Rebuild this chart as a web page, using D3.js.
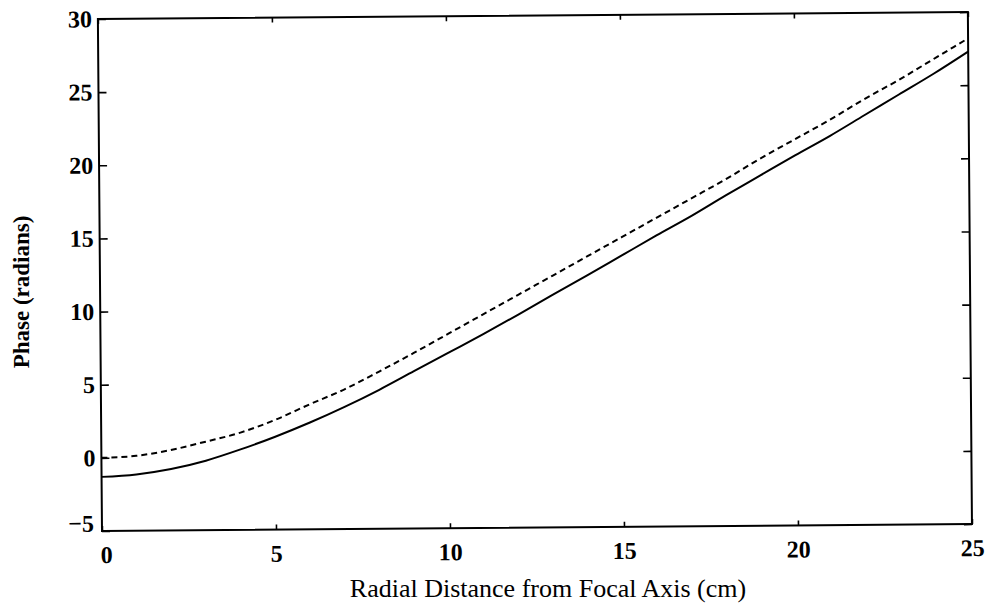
<!DOCTYPE html>
<html>
<head>
<meta charset="utf-8">
<script src="https://cdn.jsdelivr.net/npm/d3@7"></script>
<style>
  body { margin: 0; background: #fff; }
  .tick text { font-family: "Liberation Serif", "Times New Roman", serif; font-weight: bold; font-size: 24px; fill: #000; }
  .tick line { stroke: #000; stroke-width: 1.6; }
</style>
</head>
<body>
<div id="container"></div>
<script>
/* DATA */
const radius = [0, 1, 2, 3, 4, 5, 6, 7, 8, 9, 10, 11, 12, 13, 14, 15, 16, 17, 18, 19, 20, 21, 22, 23, 24, 25];
const phaseSolid = [-1.3, -1.15, -0.8, -0.25, 0.5, 1.35, 2.3, 3.35, 4.5, 5.75, 7.0, 8.25, 9.55, 10.9, 12.2, 13.55, 14.9, 16.2, 17.6, 18.95, 20.3, 21.6, 23.0, 24.4, 25.8, 27.3];
const phaseDashed = [0, 0.12, 0.5, 1.05, 1.65, 2.5, 3.55, 4.55, 5.75, 7.0, 8.3, 9.6, 10.9, 12.2, 13.5, 14.8, 16.1, 17.4, 18.7, 20.1, 21.4, 22.7, 24.1, 25.4, 26.8, 28.2];
const xTicks = [0, 5, 10, 15, 20, 25];
const yTicks = [-5, 0, 5, 10, 15, 20, 25, 30];

/* CONSTANTS */
const width = 986, height = 606;
const margin = { top: 19, right: 14, bottom: 75, left: 102 };

const svg = d3.select("#container")
  .append("svg")
  .attr("width", width)
  .attr("height", height)
  .style("background-color", "#ffffff");

// the scan is slightly tilted
const g = svg.append("g")
  .attr("transform", `rotate(-0.46, ${margin.left}, ${height - margin.bottom})`);

/* SCALES */
const xScale = d3.scaleLinear()
  .domain([0, 25])
  .range([margin.left, width - margin.right]);

const yScale = d3.scaleLinear()
  .domain([-5, 30])
  .range([height - margin.bottom, margin.top]);

/* AXES */
g.append("g")
  .attr("class", "x-axis")
  .attr("transform", `translate(0,${height - margin.bottom})`)
  .call(d3.axisBottom(xScale).tickValues(xTicks).tickSize(-5).tickPadding(15))
  .call(a => a.select(".domain").remove())
  .call(a => a.selectAll(".tick text").filter(d => d === 0).attr("dx", 4));

g.append("g")
  .attr("class", "y-axis")
  .attr("transform", `translate(${margin.left},0)`)
  .call(d3.axisLeft(yScale).tickValues(yTicks).tickSize(-8).tickPadding(6))
  .call(a => a.select(".domain").remove())
  .call(a => a.selectAll(".tick text").filter(d => d === -5).attr("dy", "0").attr("dx", -2));

// top and right ticks, no labels
g.append("g")
  .attr("transform", `translate(0,${margin.top})`)
  .call(d3.axisTop(xScale).tickValues(xTicks).tickSize(-5).tickFormat(""))
  .call(a => a.select(".domain").remove());

g.append("g")
  .attr("transform", `translate(${width - margin.right},0)`)
  .call(d3.axisRight(yScale).tickValues(yTicks).tickSize(-8).tickFormat(""))
  .call(a => a.select(".domain").remove());

// frame
g.append("rect")
  .attr("x", xScale(0))
  .attr("y", yScale(30))
  .attr("width", xScale(25) - xScale(0))
  .attr("height", yScale(-5) - yScale(30))
  .attr("fill", "none")
  .attr("stroke", "#000")
  .attr("stroke-width", 2);

/* LINES */
const solidData = radius.map((r, i) => [r, phaseSolid[i]]);
const dashedData = radius.map((r, i) => [r, phaseDashed[i]]);

const line = d3.line()
  .x(d => xScale(d[0]))
  .y(d => yScale(d[1]))
  .curve(d3.curveMonotoneX);

g.append("path")
  .datum(solidData)
  .attr("d", line)
  .attr("fill", "none")
  .attr("stroke", "#000")
  .attr("stroke-width", 2);

g.append("path")
  .datum(dashedData)
  .attr("d", line)
  .attr("fill", "none")
  .attr("stroke", "#000")
  .attr("stroke-width", 2)
  .attr("stroke-dasharray", "6,4");

/* LABELS */
svg.append("text")
  .attr("x", 548)
  .attr("y", 597)
  .attr("text-anchor", "middle")
  .style("font-family", "'Liberation Serif', 'Times New Roman', serif")
  .style("font-size", "26px")
  .text("Radial Distance from Focal Axis (cm)");

svg.append("text")
  .attr("transform", "translate(29,292) rotate(-90)")
  .attr("text-anchor", "middle")
  .style("font-family", "'Liberation Serif', 'Times New Roman', serif")
  .style("font-size", "23px")
  .style("font-weight", "bold")
  .text("Phase (radians)");
</script>
</body>
</html>
